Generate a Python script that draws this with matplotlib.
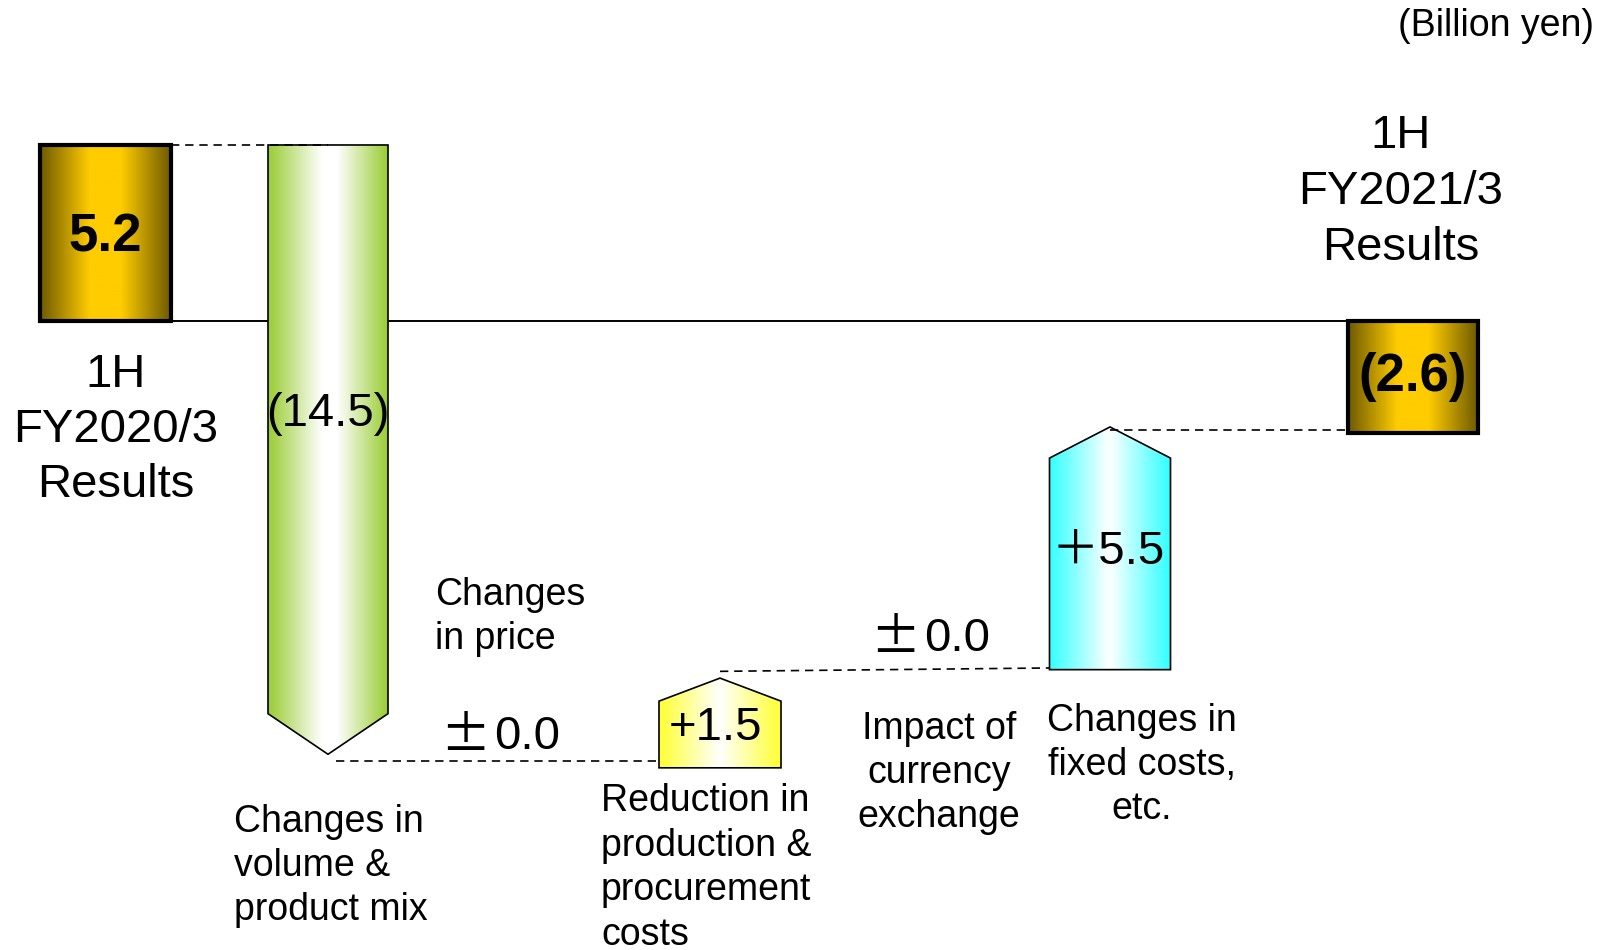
import matplotlib
matplotlib.use("Agg")
import matplotlib.pyplot as plt
import numpy as np
from matplotlib.patches import Polygon
from matplotlib.colors import LinearSegmentedColormap

plt.rcParams['font.family'] = ['Liberation Sans', 'Noto Sans CJK JP', 'DejaVu Sans']

# ---- data (billion yen) ----
labels = ["1H\nFY2020/3\nResults", "Changes in\nvolume &\nproduct mix", "Changes\nin price",
          "Reduction in\nproduction &\nprocurement\ncosts", "Impact of\ncurrency\nexchange",
          "Changes in\nfixed costs,\netc.", "1H\nFY2021/3\nResults"]
value_text = ["5.2", "(14.5)", "±0.0", "+1.5", "±0.0", "＋5.5", "(2.6)"]
kinds = ["total", "down", "none", "up", "none", "up", "total"]
# the shapes are schematic (not to scale), start/end levels read off the picture
starts = [0.0, 5.2, None, -13.2, None, -10.3, 0.0]
ends = [5.2, -12.8, None, -10.55, None, -3.13, -3.3]

# ---- layout (pixels of a 1608x950 canvas) ----
W, H = 1608, 950
x_center = [105.5, 328, 505, 720, 935, 1110, 1413]
widths = [131, 120, 0, 122, 0, 121, 130]
heads = [0, 1.2, 0, 0.68, 0, 0.92, 0]
px_per_unit = 33.85
zero_px = 321

gold = [(0, '#6E5A00'), (0.38, '#FFCC00'), (0.62, '#FFCC00'), (1, '#6E5A00')]
fills = {
    0: gold,
    1: [(0, '#99CC33'), (0.45, '#FFFFFF'), (0.58, '#FFFFFF'), (1, '#99CC33')],
    3: [(0, '#FFFF33'), (0.5, '#FFFFFF'), (1, '#FFFF33')],
    5: [(0, '#33FFFF'), (0.5, '#FFFFFF'), (1, '#33FFFF')],
    6: gold,
}


def val(ypx):
    return (zero_px - ypx) / px_per_unit


fig = plt.figure(figsize=(W / 100, H / 100), dpi=100)
ax = fig.add_axes([0, 0, 1, 1])


def shape(ax, verts, stops, lw):
    poly = Polygon(verts, closed=True, facecolor='none', edgecolor='black',
                   lw=lw, zorder=3, joinstyle='miter')
    ax.add_patch(poly)
    xs = [v[0] for v in verts]
    ys = [v[1] for v in verts]
    cmap = LinearSegmentedColormap.from_list('g', stops)
    grad = np.linspace(0, 1, 256).reshape(1, -1)
    im = ax.imshow(grad, cmap=cmap, extent=(min(xs), max(xs), min(ys), max(ys)),
                   aspect='auto', zorder=2, interpolation='bilinear')
    im.set_clip_path(poly)


for i, k in enumerate(kinds):
    if k == "none":
        continue
    c, w, s, e = x_center[i], widths[i], starts[i], ends[i]
    l, r = c - w / 2, c + w / 2
    if k == "total":
        verts = [(l, s), (r, s), (r, e), (l, e)]
        shape(ax, verts, fills[i], 3.0)
    elif k == "down":
        h = heads[i]
        verts = [(l, s), (r, s), (r, e + h), (c, e), (l, e + h)]
        shape(ax, verts, fills[i], 1.2)
    else:
        h = heads[i]
        verts = [(l, s), (r, s), (r, e - h), (c, e), (l, e - h)]
        shape(ax, verts, fills[i], 1.2)

# zero line between the two results boxes
ax.plot([x_center[0] + widths[0] / 2, x_center[6] - widths[6] / 2], [0, 0],
        color='black', lw=1.4, zorder=1)

# dashed connectors
dash = dict(color='black', lw=1.2, ls=(0, (5, 3.5)), zorder=4)
ax.plot([x_center[0] + widths[0] / 2, x_center[1]],
        [(ends[0] + starts[1]) / 2] * 2, **dash)
ax.plot([x_center[1] + 8, x_center[3] - widths[3] / 2],
        [(ends[1] + starts[3]) / 2] * 2, **dash)
ax.plot([x_center[3], x_center[5] - widths[5] / 2],
        [ends[3] + 0.2, starts[5] + 0.05], **dash)
ax.plot([x_center[5], x_center[6] - widths[6] / 2],
        [(ends[5] + ends[6]) / 2] * 2, **dash)

ax.set_xlim(0, W)
ax.set_ylim(val(H), val(0))
ax.axis('off')


def ftext(x, y, s, **kw):
    fig.text(x / W, 1 - y / H, s, **kw)


def pm_text(x_split, y, s):
    # the ± sign is wider in the original, drawn from a CJK face
    ftext(x_split, y, s[0], ha='right', va='center', fontsize=36,
          family=['Noto Sans CJK JP'])
    ftext(x_split + 4, y, s[1:], ha='left', va='center', fontsize=34)


ftext(1594, 26, "(Billion yen)", ha='right', va='center', fontsize=27)

# category labels
ftext(116, 430, labels[0], ha='center', va='center', fontsize=34, linespacing=1.32)
ftext(234, 866, labels[1], ha='left', va='center', fontsize=27, linespacing=1.3)
ftext(435, 617, labels[2], ha='left', va='center', fontsize=27, linespacing=1.3)
ftext(601, 868, labels[3], ha='left', va='center', fontsize=27, linespacing=1.3)
ftext(939, 773, labels[4], ha='center', va='center', fontsize=27, linespacing=1.3)
ftext(1142, 765, labels[5], ha='center', va='center', fontsize=27, linespacing=1.3)
ftext(1401, 192, labels[6], ha='center', va='center', fontsize=34, linespacing=1.36)

# value labels
ftext(x_center[0], 237, value_text[0], ha='center', va='center', fontsize=38, fontweight='bold')
ftext(x_center[1], 414, value_text[1], ha='center', va='center', fontsize=34)
pm_text(490, 737, value_text[2])
ftext(716, 728, value_text[3], ha='center', va='center', fontsize=34)
pm_text(920, 639, value_text[4])
ftext(x_center[5] - 2, 552, value_text[5], ha='center', va='center', fontsize=34)
ftext(x_center[6], 377, value_text[6], ha='center', va='center', fontsize=38, fontweight='bold')

fig.savefig('out.png', dpi=100)
